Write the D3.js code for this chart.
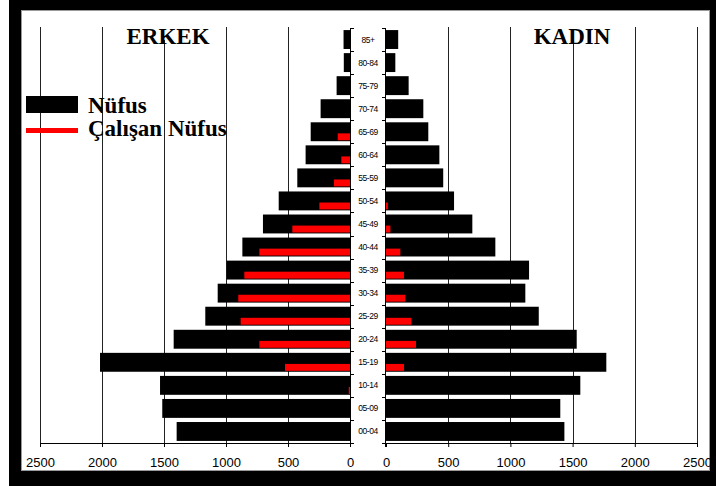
<!DOCTYPE html>
<html>
<head>
<meta charset="utf-8">
<script src="https://cdn.jsdelivr.net/npm/d3@7.9.0/dist/d3.min.js"></script>
<style>
  html, body { margin: 0; padding: 0; background: #fff; }
  svg { display: block; }
</style>
</head>
<body>
<svg width="716" height="486"></svg>
<script>
// age groups, bottom to top
const ages = ['00-04', '05-09', '10-14', '15-19', '20-24', '25-29', '30-34', '35-39', '40-44',
  '45-49', '50-54', '55-59', '60-64', '65-69', '70-74', '75-79', '80-84', '85+'];
const erkekNufus = [1398, 1514, 1532, 2016, 1422, 1167, 1067, 995, 868, 702, 575, 425, 358, 317, 237, 108, 50, 52];
const erkekCalisan = [0, 0, 10, 524, 731, 882, 901, 852, 731, 465, 247, 129, 70, 99, 0, 0, 0, 0];
const kadinNufus = [1434, 1401, 1562, 1771, 1533, 1228, 1120, 1150, 879, 694, 547, 460, 429, 340, 300, 182, 75, 98];
const kadinCalisan = [0, 0, 0, 145, 241, 204, 155, 145, 115, 35, 15, 0, 0, 0, 0, 0, 0, 0];
const tickValues = [0, 500, 1000, 1500, 2000, 2500];

const rows = ages.map((a, i) => ({
  age: a, en: erkekNufus[i], ec: erkekCalisan[i], kn: kadinNufus[i], kc: kadinCalisan[i]
}));

const svg = d3.select('svg');

// frame
svg.append('rect').attr('x', 9).attr('y', 0).attr('width', 707).attr('height', 486).attr('fill', '#000');
svg.append('rect').attr('x', 21.5).attr('y', 10.5).attr('width', 688).attr('height', 460)
  .attr('fill', '#fff').attr('stroke', '#999');

const plotTop = 28, plotBottom = 443;
let y = d3.scaleBand().domain(ages.slice().reverse()).range([plotTop, plotBottom]);
let xL = d3.scaleLinear().domain([0, 2500]).range([350, 40]);
let xR = d3.scaleLinear().domain([0, 2500]).range([386, 697]);
const bw = y.bandwidth();

// gridlines
const grid = svg.append('g').attr('stroke', '#222').attr('shape-rendering', 'crispEdges');
tickValues.slice(1).forEach((v) => {
  grid.append('line').attr('x1', Math.round(xL(v)) + 0.5).attr('x2', Math.round(xL(v)) + 0.5)
    .attr('y1', plotTop - 1).attr('y2', plotBottom);
  grid.append('line').attr('x1', Math.round(xR(v)) + 0.5).attr('x2', Math.round(xR(v)) + 0.5)
    .attr('y1', plotTop - 1).attr('y2', plotBottom);
});

// titles with white boxes
svg.append('rect').attr('x', 125).attr('y', 26).attr('width', 88).attr('height', 14).attr('fill', '#fff');
svg.append('rect').attr('x', 531).attr('y', 26).attr('width', 82).attr('height', 14).attr('fill', '#fff');
const titleFont = '"Liberation Serif", "Times New Roman", serif';
svg.append('text').attr('x', 168).attr('y', 44).attr('text-anchor', 'middle')
  .attr('font-family', titleFont).attr('font-weight', 'bold').attr('font-size', 23).text('ERKEK');
svg.append('text').attr('x', 572).attr('y', 44).attr('text-anchor', 'middle')
  .attr('font-family', titleFont).attr('font-weight', 'bold').attr('font-size', 23).text('KADIN');

// bars
const bars = svg.append('g');
bars.append('g').selectAll('rect').data(rows).join('rect')
  .attr('x', (d) => xL(d.en)).attr('y', (d) => y(d.age) + bw * 0.09)
  .attr('width', (d) => xL(0) - xL(d.en)).attr('height', bw * 0.82).attr('fill', '#000');
bars.append('g').selectAll('rect').data(rows).join('rect')
  .attr('x', xR(0)).attr('y', (d) => y(d.age) + bw * 0.09)
  .attr('width', (d) => xR(d.kn) - xR(0)).attr('height', bw * 0.82).attr('fill', '#000');
bars.append('g').selectAll('rect').data(rows.filter((d) => d.ec > 0)).join('rect')
  .attr('x', (d) => xL(d.ec)).attr('y', (d) => y(d.age) + bw * 0.57)
  .attr('width', (d) => xL(0) - xL(d.ec)).attr('height', bw * 0.3).attr('fill', '#f00');
bars.append('g').selectAll('rect').data(rows.filter((d) => d.kc > 0)).join('rect')
  .attr('x', xR(0)).attr('y', (d) => y(d.age) + bw * 0.57)
  .attr('width', (d) => xR(d.kc) - xR(0)).attr('height', bw * 0.3).attr('fill', '#f00');

// center label column
svg.append('rect').attr('x', 350.5).attr('y', plotTop).attr('width', 35).attr('height', plotBottom - plotTop).attr('fill', '#fff');
const axisC = svg.append('g').attr('stroke', '#000').attr('shape-rendering', 'crispEdges');
axisC.append('line').attr('x1', 350.5).attr('x2', 350.5).attr('y1', plotTop).attr('y2', plotBottom + 4);
axisC.append('line').attr('x1', 385.5).attr('x2', 385.5).attr('y1', plotTop).attr('y2', plotBottom + 4);
d3.range(ages.length + 1).forEach((i) => {
  const yy = Math.round(plotTop + i * bw) + 0.5;
  axisC.append('line').attr('x1', 350).attr('x2', 354).attr('y1', yy).attr('y2', yy);
  axisC.append('line').attr('x1', 382).attr('x2', 386).attr('y1', yy).attr('y2', yy);
});
svg.append('g').selectAll('text').data(ages).join('text')
  .attr('x', 368).attr('y', (d) => y(d) + bw / 2 + 3)
  .attr('text-anchor', 'middle').attr('font-family', '"Liberation Sans", Arial, sans-serif')
  .attr('font-size', 8.5).attr('letter-spacing', -0.4).text((d) => d);

// bottom axes
function drawAxis(scale) {
  const g = svg.append('g').attr('transform', `translate(0,${plotBottom})`)
    .call(d3.axisBottom(scale).tickValues(tickValues).tickFormat(d3.format('d'))
      .tickSize(4).tickSizeOuter(0).tickPadding(11));
  g.select('.domain').attr('stroke', '#000');
  g.selectAll('.tick line').attr('stroke', '#000');
  g.selectAll('.tick text').attr('font-family', '"Liberation Sans", Arial, sans-serif')
    .attr('font-size', 13).attr('fill', '#000');
}
drawAxis(xL);
drawAxis(xR);

// legend
svg.append('rect').attr('x', 26).attr('y', 96).attr('width', 52).attr('height', 17).attr('fill', '#000');
svg.append('rect').attr('x', 26).attr('y', 128).attr('width', 52).attr('height', 5).attr('fill', '#f00');
svg.append('text').attr('x', 88).attr('y', 113).attr('font-family', titleFont)
  .attr('font-weight', 'bold').attr('font-size', 23).text('Nüfus');
svg.append('text').attr('x', 88).attr('y', 136).attr('font-family', titleFont)
  .attr('font-weight', 'bold').attr('font-size', 23).text('Çalışan Nüfus');
</script>
</body>
</html>
